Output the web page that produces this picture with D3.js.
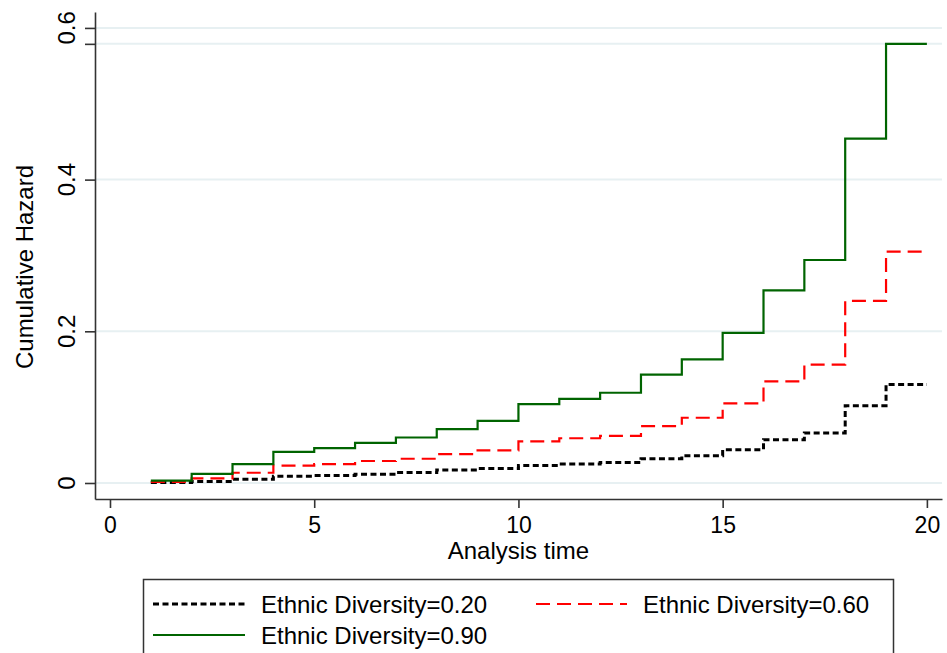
<!DOCTYPE html>
<html>
<head>
<meta charset="utf-8">
<script src="https://cdn.jsdelivr.net/npm/d3@7"></script>
<style>
  body { margin: 0; background: #fff; }
  text { font-family: "Liberation Sans", Arial, Helvetica, sans-serif; fill: #000; }
</style>
</head>
<body>
<div id="chart"></div>
<script>
// analysis times (step positions)
let times = [1, 2, 3, 4, 5, 6, 7, 8, 9, 10, 11, 12, 13, 14, 15, 16, 17, 18, 19, 20];
// cumulative hazard per series (last value holds to t=20)
let hazard020 = [0.0005, 0.002, 0.005, 0.009, 0.010, 0.0115, 0.014, 0.017, 0.019, 0.023, 0.025, 0.027, 0.032, 0.036, 0.044, 0.057, 0.066, 0.102, 0.130, 0.130];
let hazard060 = [0.0015, 0.006, 0.0135, 0.023, 0.025, 0.029, 0.032, 0.038, 0.043, 0.055, 0.059, 0.062, 0.075, 0.086, 0.105, 0.134, 0.156, 0.240, 0.305, 0.305];
let hazard090 = [0.003, 0.012, 0.025, 0.041, 0.046, 0.053, 0.060, 0.071, 0.082, 0.104, 0.111, 0.119, 0.143, 0.163, 0.198, 0.254, 0.294, 0.454, 0.579, 0.579];
let seriesNames = ["Ethnic Diversity=0.20", "Ethnic Diversity=0.60", "Ethnic Diversity=0.90"];
let xTicks = [0, 5, 10, 15, 20];
let yTicks = [0, 0.2, 0.4, 0.6];
let yTickLabels = ["0", "0.2", "0.4", "0.6"];

function graph(id) {
	let width = 947, height = 653;
	let svg = d3.select(id).append("svg")
		.attr("width", width)
		.attr("height", height);

	let x = d3.scaleLinear().domain([-0.367, 20.37]).range([95, 942]);
	let y = d3.scaleLinear().domain([-0.0211, 0.621]).range([499, 12]);

	let styles = [
		{ data: hazard020, colour: "#000000", width: 3, dash: "6,3.5" },
		{ data: hazard060, colour: "#ff0000", width: 2.2, dash: "14,7" },
		{ data: hazard090, colour: "#006400", width: 2.2, dash: null }
	];

	// grid lines, including the unlabeled tick at the max of the top curve
	let gridValues = yTicks.concat([d3.max(hazard090)]);
	svg.append("g").selectAll("line")
		.data(gridValues).enter()
		.append("line")
		.attr("x1", x.range()[0]).attr("x2", x.range()[1])
		.attr("y1", d => y(d)).attr("y2", d => y(d))
		.style("stroke", "#e7f0f2")
		.style("stroke-width", 2);

	// y axis
	let yAxis = d3.axisLeft(y)
		.tickValues(gridValues)
		.tickSize(10)
		.tickSizeOuter(0)
		.tickFormat(() => "");
	let gy = svg.append("g").attr("transform", `translate(${x.range()[0]},0)`).call(yAxis);
	gy.select(".domain").style("stroke", "#333").style("stroke-width", 1.6);
	gy.selectAll(".tick line").style("stroke", "#333").style("stroke-width", 1.6);

	svg.append("g").selectAll("text")
		.data(yTicks).enter()
		.append("text")
		.attr("transform", d => `translate(75,${y(d)}) rotate(-90)`)
		.attr("text-anchor", "middle")
		.style("font-size", "24px")
		.text((d, i) => yTickLabels[i]);

	// x axis
	let xAxis = d3.axisBottom(x)
		.tickValues(xTicks)
		.tickSize(9)
		.tickSizeOuter(0)
		.tickFormat(d3.format("d"));
	let gx = svg.append("g").attr("transform", `translate(0,${y.range()[0]})`).call(xAxis);
	gx.select(".domain").style("stroke", "#333").style("stroke-width", 1.6);
	gx.selectAll(".tick line").style("stroke", "#333").style("stroke-width", 1.6);
	gx.selectAll(".tick text")
		.attr("y", 0).attr("dy", 0)
		.attr("transform", "translate(0,34)")
		.style("font-size", "23px")
		.style("font-family", "'Liberation Sans', Arial, sans-serif")
		.style("fill", "#000");

	svg.append("text")
		.attr("x", x(10)).attr("y", 559)
		.attr("text-anchor", "middle")
		.style("font-size", "24px")
		.text("Analysis time");

	svg.append("text")
		.attr("transform", "translate(33,267) rotate(-90)")
		.attr("text-anchor", "middle")
		.style("font-size", "24px")
		.text("Cumulative Hazard");

	// step curves
	let line = d3.line()
		.x((d, i) => x(times[i]))
		.y(d => y(d))
		.curve(d3.curveStepAfter);

	svg.append("g").selectAll("path")
		.data(styles).enter()
		.append("path")
		.attr("d", d => line(d.data))
		.style("fill", "none")
		.style("stroke", d => d.colour)
		.style("stroke-width", d => d.width)
		.style("stroke-dasharray", d => d.dash);

	// legend
	let legend = svg.append("g");
	legend.append("rect")
		.attr("x", 143.5).attr("y", 579.5)
		.attr("width", 750).attr("height", 100)
		.style("fill", "#fff")
		.style("stroke", "#333")
		.style("stroke-width", 1.5);

	let legendPos = [
		{ x: 153, y: 604, len: 92 },
		{ x: 536, y: 604, len: 91 },
		{ x: 153, y: 635, len: 92 }
	];
	let items = legend.selectAll("g.item")
		.data(styles).enter()
		.append("g").attr("class", "item");
	items.append("line")
		.attr("x1", (d, i) => legendPos[i].x)
		.attr("x2", (d, i) => legendPos[i].x + legendPos[i].len)
		.attr("y1", (d, i) => legendPos[i].y)
		.attr("y2", (d, i) => legendPos[i].y)
		.style("stroke", d => d.colour)
		.style("stroke-width", d => d.width)
		.style("stroke-dasharray", d => d.dash);
	items.append("text")
		.attr("x", (d, i) => legendPos[i].x + legendPos[i].len + 16)
		.attr("y", (d, i) => legendPos[i].y + 9)
		.style("font-size", "24px")
		.text((d, i) => seriesNames[i]);
}

graph("#chart");
</script>
</body>
</html>
